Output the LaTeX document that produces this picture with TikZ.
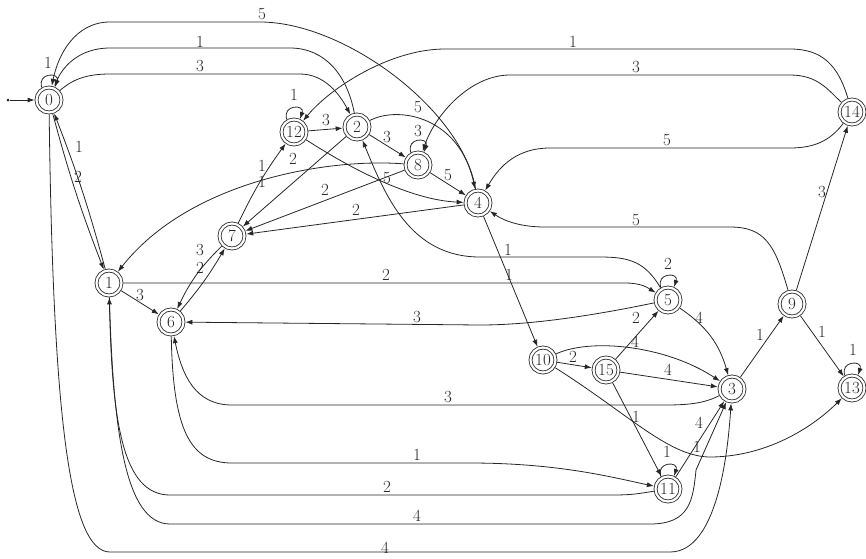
\documentclass[tikz,border=0pt]{standalone}
\usetikzlibrary{arrows.meta}
\definecolor{ink}{RGB}{38,38,38}
\begin{document}
\begin{tikzpicture}[x=1pt,y=-1pt,
  every node/.style={font=\fontsize{17}{20}\selectfont},
  st/.style={circle,draw=ink,double=white,double distance=2.2pt,line width=0.8pt,minimum size=25pt,inner sep=0pt,outer sep=1.9pt,text=ink},
  lbl/.style={inner sep=0pt,text=ink},
  ed/.style={draw=ink,line width=0.8pt,-{Latex[length=7pt,width=5pt]}},
  lp/.style={ed},
]
\path[use as bounding box] (0,0) rectangle (866,558);
% states
\node[st] (n0) at (49,100) {0};
\node[st] (n1) at (109,283) {1};
\node[st] (n2) at (357,127) {2};
\node[st] (n3) at (732,389) {3};
\node[st] (n4) at (478,203) {4};
\node[st] (n5) at (668,300) {5};
\node[st] (n6) at (171,322) {6};
\node[st] (n7) at (232,236) {7};
\node[st] (n8) at (418,165) {8};
\node[st] (n9) at (792,304) {9};
\node[st] (n10) at (543,360) {10};
\node[st] (n11) at (668,489) {11};
\node[st] (n12) at (294,132) {12};
\node[st] (n13) at (852,388) {13};
\node[st] (n14) at (852,112) {14};
\node[st] (n15) at (606,370) {15};
\node[circle,fill=ink,inner sep=0pt,minimum size=3pt] (s) at (8,100) {};
% edges
\draw[ed] (s) -- (n0);
\draw[lp] (n0.120) .. controls +(-5,-15) and +(5,-15) .. (n0.65);
\draw[ed] (n0) to[bend right=3] (n1);
\draw[ed] (n1) to[bend right=3] (n0);
\draw[ed] (n0) .. controls (53,420) and (70,552) .. (110,552) -- (670,552) .. controls (718,552) and (728,450) .. (n3);
\draw[ed] (n1) .. controls (113,430) and (125,524) .. (170,524) -- (650,524) .. controls (690,524) and (693,500) .. (696,470) -- (n3);
\draw[ed] (n11) .. controls (630,495) .. (600,495) -- (170,495) .. controls (122,495) and (112,420) .. (n1);
\draw[ed] (n6) .. controls (173,430) and (190,463) .. (232,463) -- (470,463) .. controls (560,463) and (615,478) .. (n11);
\draw[ed] (n3) .. controls (705,403) and (690,405) .. (665,405) -- (232,405) .. controls (195,405) and (182,375) .. (n6);
\draw[ed] (n5) .. controls (610,312) and (540,325) .. (480,325) -- (n6);
\draw[ed] (n1) -- (625,283) .. controls (642,283) and (648,288) .. (n5);
\draw[ed] (n5) .. controls (645,262) and (630,257) .. (600,257) -- (480,257) .. controls (410,257) and (385,195) .. (n2);
\draw[ed] (n9) .. controls (775,245) and (765,227) .. (730,227) -- (545,227) .. controls (515,227) and (500,218) .. (n4);
\draw[ed] (n9) -- (n14);
\draw[ed] (n9) -- (n13);
\draw[ed] (n3) -- (n9);
\draw[ed] (n5) to[bend left=20] (n3);
\draw[ed] (n15) -- (n5);
\draw[ed] (n15) -- (n3);
\draw[ed] (n10) -- (n15);
\draw[ed] (n15) -- (n11);
\draw[ed] (n11) -- (n3);
\draw[ed] (n10) .. controls (590,338) and (665,345) .. (n3);
\draw[ed] (n10) .. controls (630,415) and (670,458) .. (712,457) .. controls (770,456) and (815,425) .. (n13);
\draw[ed] (n4) -- (n10);
\draw[ed] (n4) -- (n7);
\draw[ed] (n8) -- (n7);
\draw[ed] (n2) -- (n7);
\draw[ed] (n12) .. controls (350,168) and (410,200) .. (n4);
\draw[ed] (n8) .. controls (330,158) and (190,180) .. (n1);
\draw[ed] (n7) to[bend left=5] (n12);
\draw[ed] (n7) to[bend right=10] (n6);
\draw[ed] (n6) to[bend right=5] (n7);
\draw[ed] (n1) -- (n6);
\draw[ed] (n0) .. controls (72,80) and (85,74) .. (110,74) -- (300,74) .. controls (325,74) and (340,95) .. (n2);
\draw[ed] (n2) .. controls (347,75) and (325,48) .. (290,48) -- (110,48) .. controls (78,48) and (62,68) .. (n0);
\draw[ed] (n4) .. controls (462,110) and (345,22) .. (260,22) -- (110,22) .. controls (75,22) and (58,55) .. (n0);
\draw[ed] (n2) .. controls (400,105) and (460,118) .. (n4);
\draw[ed] (n2) -- (n8);
\draw[ed] (n8) -- (n4);
\draw[ed] (n12) -- (n2);
\draw[lp] (n8.120) .. controls +(-5,-15) and +(5,-15) .. (n8.65);
\draw[lp] (n12.120) .. controls +(-5,-15) and +(5,-15) .. (n12.65);
\draw[lp] (n5.120) .. controls +(-5,-15) and +(5,-15) .. (n5.65);
\draw[lp] (n11.120) .. controls +(-5,-15) and +(5,-15) .. (n11.65);
\draw[lp] (n13.120) .. controls +(-5,-15) and +(5,-15) .. (n13.65);
\draw[ed] (n14) .. controls (838,65) and (822,49) .. (790,49) -- (445,49) .. controls (390,49) and (330,88) .. (n12);
\draw[ed] (n14) .. controls (828,90) and (818,75) .. (790,75) -- (510,75) .. controls (470,75) and (435,115) .. (n8);
\draw[ed] (n14) .. controls (832,138) and (818,148) .. (790,148) -- (550,148) .. controls (518,148) and (500,165) .. (n4);
% labels
\node[lbl] (t1) at (48,63) {1};
\node[lbl] (t2) at (78,177) {2};
\node[lbl] (t3) at (79,147) {1};
\node[lbl] (t4) at (385,548) {4};
\node[lbl] (t5) at (417,516) {4};
\node[lbl] (t6) at (387,487) {2};
\node[lbl] (t7) at (417,455) {1};
\node[lbl] (t8) at (448,397) {3};
\node[lbl] (t9) at (417,317) {3};
\node[lbl] (t10) at (386,275) {2};
\node[lbl] (t11) at (508,250) {1};
\node[lbl] (t12) at (636,220) {5};
\node[lbl] (t13) at (822,192) {3};
\node[lbl] (t14) at (822,332) {1};
\node[lbl] (t15) at (760,335) {1};
\node[lbl] (t16) at (699,318) {4};
\node[lbl] (t17) at (636,318) {2};
\node[lbl] (t18) at (635,342) {4};
\node[lbl] (t19) at (668,370) {4};
\node[lbl] (t20) at (573,357) {2};
\node[lbl] (t21) at (636,417) {1};
\node[lbl] (t22) at (697,447) {1};
\node[lbl] (t23) at (699,423) {4};
\node[lbl] (t24) at (667,452) {1};
\node[lbl] (t25) at (853,350) {1};
\node[lbl] (t26) at (668,264) {2};
\node[lbl] (t27) at (509,275) {1};
\node[lbl] (t28) at (356,210) {2};
\node[lbl] (t29) at (387,178) {5};
\node[lbl] (t30) at (325,190) {2};
\node[lbl] (t31) at (262,166) {1};
\node[lbl] (t32) at (262,182) {1};
\node[lbl] (t33) at (293,159) {2};
\node[lbl] (t34) at (200,250) {3};
\node[lbl] (t35) at (200,268) {2};
\node[lbl] (t36) at (140,295) {3};
\node[lbl] (t37) at (200,66) {3};
\node[lbl] (t38) at (200,42) {1};
\node[lbl] (t39) at (262,14) {5};
\node[lbl] (t40) at (418,107) {5};
\node[lbl] (t41) at (387,137) {3};
\node[lbl] (t42) at (418,131) {3};
\node[lbl] (t43) at (448,175) {5};
\node[lbl] (t44) at (326,120) {3};
\node[lbl] (t45) at (294,95) {1};
\node[lbl] (t46) at (573,42) {1};
\node[lbl] (t47) at (636,67) {3};
\node[lbl] (t48) at (667,140) {5};
\end{tikzpicture}
\end{document}
